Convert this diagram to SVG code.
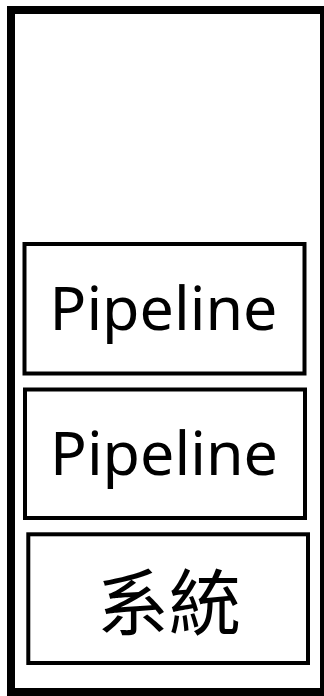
<svg xmlns="http://www.w3.org/2000/svg" width="324" height="696" viewBox="0 0 324 696">
<style>
.box{fill:#fff;stroke:#000;stroke-width:4}
.lbl{font-family:"Noto Sans","Open Sans",sans-serif;font-size:60px;fill:#000;text-anchor:middle}
.cjk{font-family:"Noto Sans CJK TC","Noto Sans CJK SC",sans-serif;font-size:72px;fill:#000;text-anchor:middle}
</style>
<rect width="324" height="696" fill="#fff"/>
<g id="outer"><rect x="11" y="10" width="313" height="682" fill="#fff" stroke="#000" stroke-width="8"/></g>
<g id="pipeline1"><rect class="box" x="24.5" y="244" width="280" height="129.5"/><text class="lbl" x="163.5" y="329.5" textLength="228" lengthAdjust="spacingAndGlyphs">Pipeline</text></g>
<g id="pipeline2"><rect class="box" x="25" y="389.5" width="280" height="128.5"/><text class="lbl" x="164" y="474.5" textLength="228" lengthAdjust="spacingAndGlyphs">Pipeline</text></g>
<g id="system"><rect class="box" x="28.3" y="534.3" width="279.7" height="128.7"/><text class="cjk" x="169" y="629">系統</text></g>
<g id="connectors"></g>
</svg>
